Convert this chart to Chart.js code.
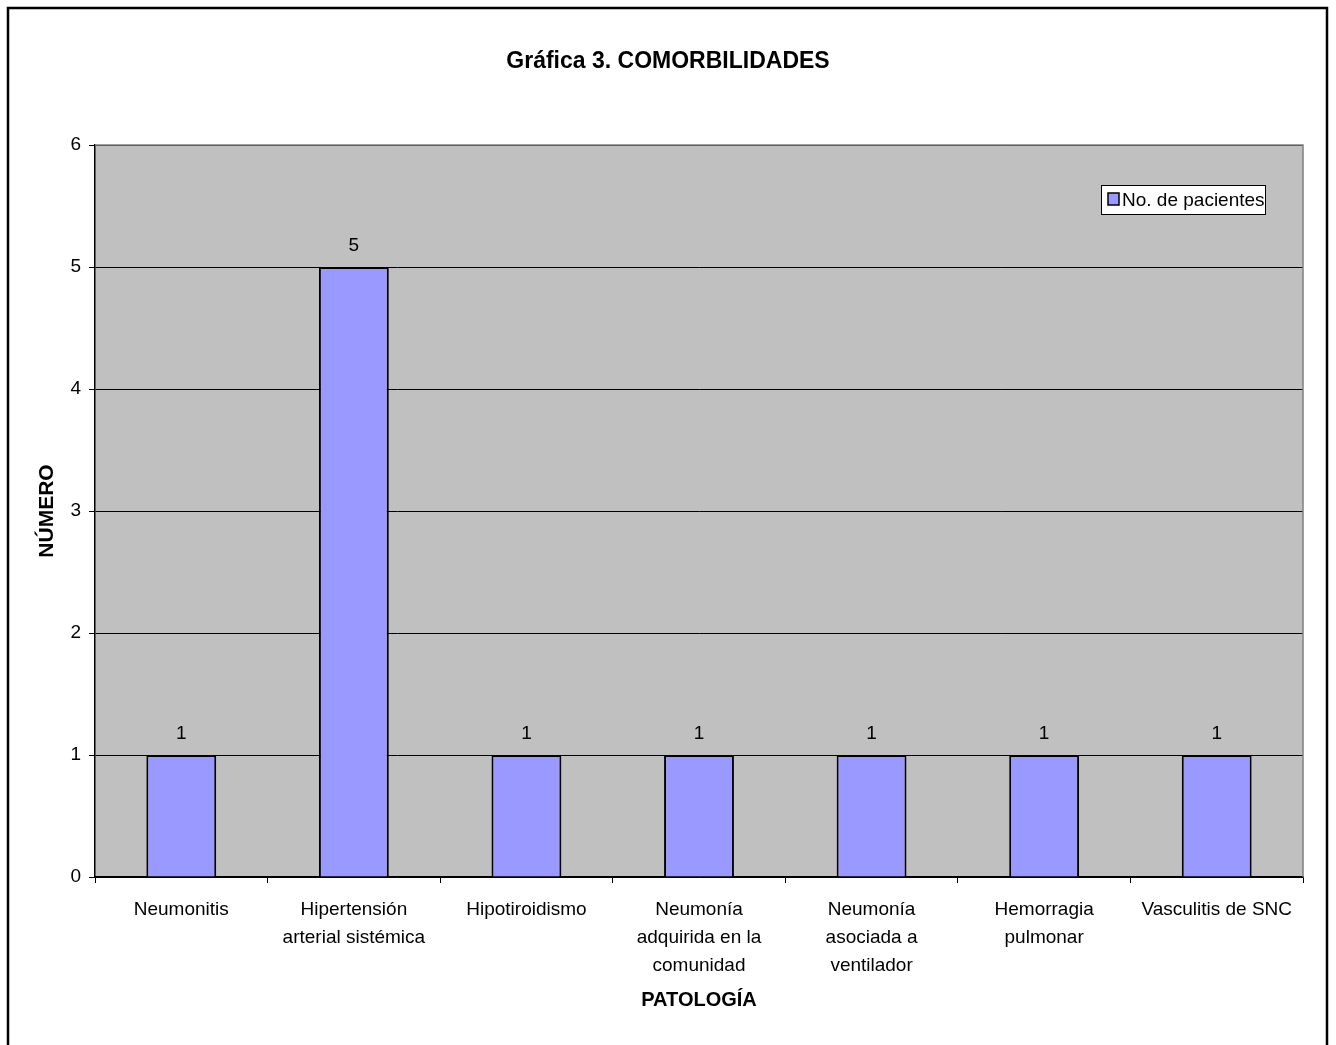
<!DOCTYPE html>
<html>
<head>
<meta charset="utf-8">
<script src="https://cdn.jsdelivr.net/npm/chart.js@4/dist/chart.umd.min.js"></script>
<style>
html,body{margin:0;padding:0;background:#fff;}
#wrap{width:1336px;height:1045px;position:relative;}
</style>
</head>
<body>
<div id="wrap"><canvas id="c" width="1336" height="1045"></canvas></div>
<script>
const chartTitle = "Gráfica 3. COMORBILIDADES";
const categories = [
  "Neumonitis",
  ["Hipertensión", "arterial sistémica"],
  "Hipotiroidismo",
  ["Neumonía", "adquirida en la", "comunidad"],
  ["Neumonía", "asociada a", "ventilador"],
  ["Hemorragia", "pulmonar"],
  "Vasculitis de SNC"
];
const patientCounts = [1, 5, 1, 1, 1, 1, 1];
const seriesLabel = "No. de pacientes";
const yTicks = [0, 1, 2, 3, 4, 5, 6];

const FONT = "'Liberation Sans', Arial, sans-serif";

const framePlugin = {
  id: 'frame',
  beforeDraw(chart) {
    const ctx = chart.ctx, a = chart.chartArea;
    ctx.save();
    ctx.fillStyle = '#fff';
    ctx.fillRect(0, 0, chart.width, chart.height);
    ctx.strokeStyle = '#000';
    ctx.lineWidth = 2.5;
    ctx.strokeRect(8, 8, 1319, 1045);
    ctx.fillStyle = '#C0C0C0';
    ctx.fillRect(a.left, a.top, a.right - a.left, a.bottom - a.top);
    // title
    ctx.fillStyle = '#000';
    ctx.font = 'bold 23px ' + FONT;
    ctx.textAlign = 'center';
    ctx.textBaseline = 'middle';
    ctx.fillText(chartTitle, 668, 62);
    ctx.restore();
  },
  afterDatasetsDraw(chart) {
    const ctx = chart.ctx, a = chart.chartArea;
    ctx.save();
    ctx.strokeStyle = '#808080';
    ctx.lineWidth = 1.5;
    ctx.beginPath();
    ctx.moveTo(a.left, a.top);
    ctx.lineTo(a.right, a.top);
    ctx.lineTo(a.right, a.bottom);
    ctx.stroke();
    const meta = chart.getDatasetMeta(0);
    ctx.fillStyle = '#000';
    ctx.font = '19px ' + FONT;
    ctx.textAlign = 'center';
    ctx.textBaseline = 'middle';
    meta.data.forEach((bar, i) => {
      ctx.fillText(String(chart.data.datasets[0].data[i]), bar.x, bar.y - 21);
    });
    const lx = 1101, ly = 185, lw = 164, lh = 29;
    ctx.fillStyle = '#fff';
    ctx.fillRect(lx, ly, lw, lh);
    ctx.strokeStyle = '#000';
    ctx.lineWidth = 1;
    ctx.strokeRect(lx + 0.5, ly + 0.5, lw, lh);
    ctx.fillStyle = '#9999FF';
    ctx.fillRect(lx + 7, ly + 8, 11, 12);
    ctx.lineWidth = 1.5;
    ctx.strokeRect(lx + 7, ly + 8, 11, 12);
    ctx.fillStyle = '#000';
    ctx.font = '19px ' + FONT;
    ctx.textAlign = 'left';
    ctx.fillText(chart.data.datasets[0].label, lx + 21, ly + lh / 2 + 1);
    ctx.restore();
  }
};

new Chart(document.getElementById('c'), {
  type: 'bar',
  data: {
    labels: categories,
    datasets: [{
      label: seriesLabel,
      data: patientCounts,
      backgroundColor: '#9999FF',
      borderColor: '#000',
      borderWidth: 2,
      barPercentage: 0.405,
      categoryPercentage: 1.0
    }]
  },
  options: {
    responsive: false,
    animation: false,
    devicePixelRatio: 1,
    layout: { padding: { left: 0, right: 33, top: 145, bottom: 0 } },
    plugins: {
      legend: { display: false },
      tooltip: { enabled: false },
      title: { display: false }
    },
    scales: {
      x: {
        grid: { drawOnChartArea: false, drawTicks: true, tickLength: 6, color: '#000', offset: true },
        border: { color: '#000', width: 1.5 },
        ticks: {
          color: '#000',
          font: { family: FONT, size: 19, lineHeight: 1.47 },
          padding: 13,
          maxRotation: 0,
          autoSkip: false
        },
        title: {
          display: true,
          text: 'PATOLOGÍA',
          color: '#000',
          font: { family: FONT, size: 20, weight: 'bold', lineHeight: 1.2 },
          padding: { top: 6, bottom: 33 }
        },
        afterFit(scale) { scale.height = 1045 - 877; }
      },
      y: {
        min: 0,
        max: 6,
        afterBuildTicks(scale) { scale.ticks = yTicks.map(v => ({ value: v })); },
        grid: { color: '#000', lineWidth: 1, tickLength: 6 },
        border: { color: '#000', width: 1.5 },
        ticks: {
          color: '#000',
          font: { family: FONT, size: 19 },
          padding: 8
        },
        title: {
          display: true,
          text: 'NÚMERO',
          color: '#000',
          font: { family: FONT, size: 21, weight: 'bold', lineHeight: 1.2 },
          padding: { top: 35, bottom: 0 }
        },
        afterFit(scale) { scale.width = 95; }
      }
    }
  },
  plugins: [framePlugin]
});
</script>
</body>
</html>
